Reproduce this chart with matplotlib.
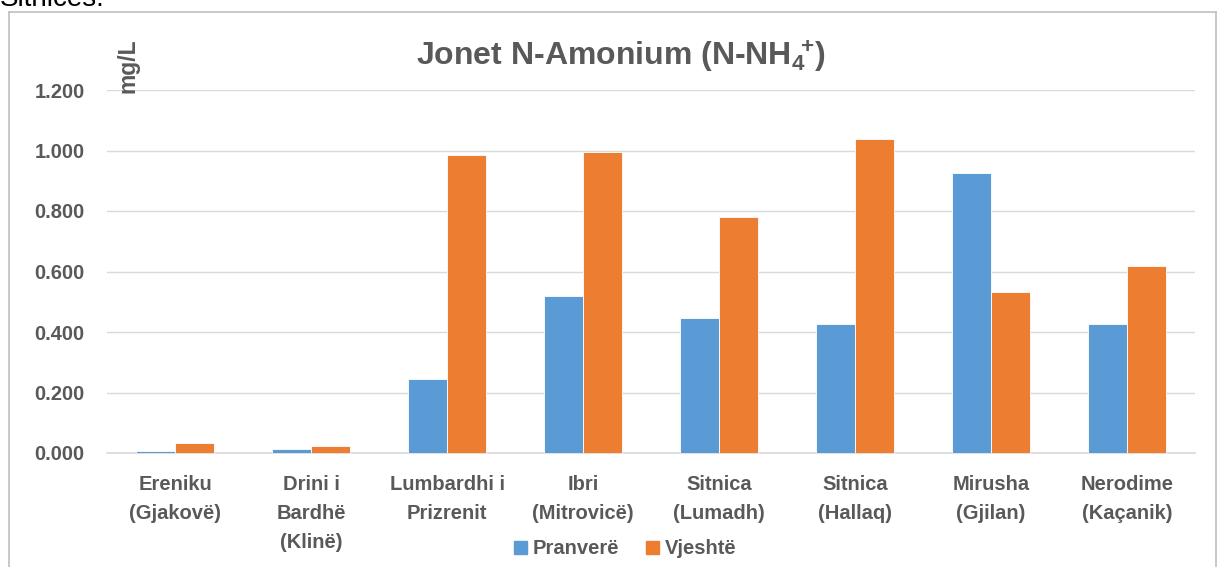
import matplotlib.pyplot as plt
import numpy as np
from matplotlib.lines import Line2D
from matplotlib.patches import Patch

plt.rcParams['font.family'] = ['Liberation Sans', 'DejaVu Sans']
plt.rcParams['mathtext.fontset'] = 'custom'
plt.rcParams['mathtext.rm'] = 'Liberation Sans:bold'
plt.rcParams['mathtext.it'] = 'Liberation Sans:bold'
plt.rcParams['mathtext.bf'] = 'Liberation Sans:bold'

stations = ['Ereniku\n(Gjakovë)', 'Drini i\nBardhë\n(Klinë)', 'Lumbardhi i\nPrizrenit',
            'Ibri\n(Mitrovicë)', 'Sitnica\n(Lumadh)', 'Sitnica\n(Hallaq)',
            'Mirusha\n(Gjilan)', 'Nerodime\n(Kaçanik)']
pranvere = [0.005, 0.013, 0.245, 0.520, 0.445, 0.425, 0.925, 0.428]
vjeshte = [0.032, 0.022, 0.985, 0.995, 0.780, 1.038, 0.532, 0.618]
yticks = [0.0, 0.2, 0.4, 0.6, 0.8, 1.0, 1.2]

blue = '#5B9BD5'
orange = '#ED7D31'
grey = '#595959'

fig = plt.figure(figsize=(12.19, 5.67), dpi=100)
ax = fig.add_axes([107/1219, 1 - 453/567, (1195 - 107)/1219, (453 - 90)/567])

x = np.arange(len(stations))
w = 0.285
ax.bar(x - w/2, pranvere, w, color=blue, edgecolor='white', linewidth=0.6, zorder=3)
ax.bar(x + w/2, vjeshte, w, color=orange, edgecolor='white', linewidth=0.6, zorder=3)

ax.set_xlim(-0.5, len(stations) - 0.5)
ax.set_ylim(0, 1.2)
ax.set_yticks(yticks)
ax.set_yticklabels(['%.3f' % v for v in yticks], fontsize=14.5, fontweight='bold', color=grey)
ax.set_xticks(x)
ax.set_xticklabels(stations, fontsize=14.5, fontweight='bold', color=grey, linespacing=1.65)
ax.tick_params(length=0)
ax.tick_params(axis='x', pad=16)
ax.tick_params(axis='y', pad=16)
ax.grid(axis='y', color='#D9D9D9', linewidth=1, zorder=0)
for s in ['top', 'right', 'left']:
    ax.spines[s].set_visible(False)
ax.spines['bottom'].set_color('#D9D9D9')
ax.spines['bottom'].set_linewidth(1.2)

fig.text(621/1219, 1 - 57/567, r'Jonet N-Amonium (N-NH$_4\!{}^{+}$)', ha='center', va='center',
         fontsize=23, fontweight='bold', color=grey)
fig.text(128/1219, 1 - 66/567, 'mg/L', rotation=90, ha='center', va='center',
         fontsize=16.5, fontweight='bold', color=grey)

handles = [Patch(color=blue, label='Pranverë'), Patch(color=orange, label='Vjeshtë')]
fig.legend(handles=handles, loc='center', bbox_to_anchor=(625/1219, 1 - 549/567),
           ncol=2, frameon=False, handlelength=0.65, handleheight=0.65, handletextpad=0.3,
           columnspacing=1.3, borderaxespad=0, borderpad=0,
           prop={'size': 14.5, 'weight': 'bold'}, labelcolor=grey)

# chart frame
frame_c = '#BFBFBF'
fig.add_artist(Line2D([9/1219, 9/1219], [0, 1 - 12/567], color=frame_c, lw=1.2))
fig.add_artist(Line2D([9/1219, 1216/1219], [1 - 12/567, 1 - 12/567], color=frame_c, lw=1.2))
fig.add_artist(Line2D([1216/1219, 1216/1219], [0, 1 - 12/567], color=frame_c, lw=1.2))

fig.text(0, 1 - 6/567, 'Sitnicës.', ha='left', va='baseline', fontsize=20, color='black')

fig.savefig('out.png', dpi=100)
